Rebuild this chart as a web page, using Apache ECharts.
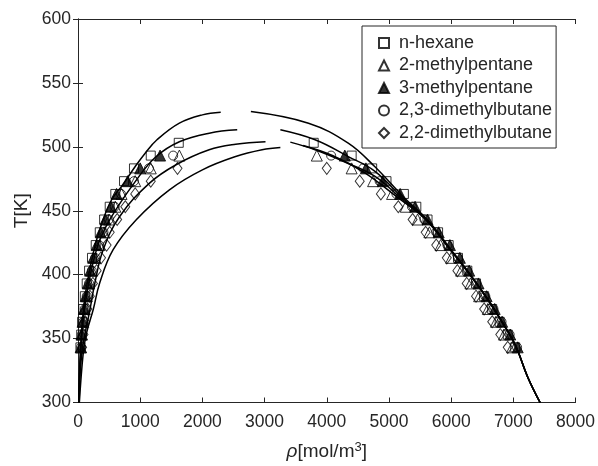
<!DOCTYPE html>
<html>
<head>
<meta charset="utf-8">
<script src="https://cdn.jsdelivr.net/npm/echarts@6/dist/echarts.min.js"></script>
<style>
  html, body { margin: 0; padding: 0; background: #ffffff; }
  #chart { width: 598px; height: 466px; }
</style>
</head>
<body>
<div id="chart"></div>
<script>
// Saturation temperatures of the measured points [K]
const tempsHexane = [343.15, 353.15, 363.15, 373.15, 383.15, 393.15, 403.15, 413.15, 423.15, 433.15, 443.15, 453.15, 463.15, 473.15, 483.15, 493.15, 503.15];
const tempsBranched = [343.15, 353.15, 363.15, 373.15, 383.15, 393.15, 403.15, 413.15, 423.15, 433.15, 443.15, 453.15, 463.15, 473.15, 483.15, 493.15];
const temps22DMB = [343.15, 353.15, 363.15, 373.15, 383.15, 393.15, 403.15, 413.15, 423.15, 433.15, 443.15, 453.15, 463.15, 473.15, 483.15];

// Saturated vapour densities [mol/m3]
const vapHexane = [39, 52, 66, 85, 110, 140, 178, 225, 285, 350, 420, 510, 600, 740, 900, 1170, 1620];
const vap2MP    = [50, 65, 85, 110, 142, 180, 225, 280, 345, 420, 500, 600, 700, 920, 1170, 1630];
const vap3MP    = [43, 56, 73, 95, 122, 155, 195, 245, 300, 365, 440, 530, 620, 800, 1000, 1320];
const vap23DMB  = [49, 64, 84, 108, 140, 178, 222, 275, 340, 410, 495, 590, 690, 900, 1140, 1530];
const vap22DMB  = [66, 88, 115, 150, 190, 240, 300, 370, 460, 510, 630, 760, 920, 1170, 1600];

// Saturated liquid densities [mol/m3]
const liqHexane = [7030, 6910, 6780, 6660, 6530, 6400, 6260, 6110, 5960, 5790, 5620, 5440, 5240, 4960, 4730, 4400, 3790];
const liq2MP    = [6980, 6850, 6720, 6590, 6450, 6310, 6160, 6000, 5830, 5650, 5460, 5270, 5050, 4745, 4400, 3840];
const liq3MP    = [7070, 6950, 6820, 6700, 6570, 6440, 6290, 6140, 5980, 5800, 5620, 5420, 5180, 4900, 4630, 4290];
const liq23DMB  = [7060, 6940, 6810, 6680, 6550, 6410, 6260, 6110, 5940, 5760, 5570, 5370, 5120, 4850, 4585, 4070];
const liq22DMB  = [6910, 6790, 6660, 6530, 6400, 6250, 6100, 5930, 5760, 5590, 5380, 5150, 4870, 4530, 4000];

// Model coexistence curves: vapour branch and liquid branch, [T, rho]
const curveA_vap = [[300, 12], [340, 38], [380, 105], [420, 260], [443, 404], [458.6, 540], [469, 700], [484.6, 920], [495, 1080], [505.5, 1270], [518.5, 1630], [525, 2000], [527, 2295]];
const curveA_liq = [[527.6, 2780], [518.5, 3706], [502.9, 4345], [484.6, 4770], [460, 5250], [443, 5620], [420, 5990], [400, 6310], [380, 6600], [360, 6860], [344, 7040], [320, 7230], [300, 7430]];
const curveB_vap = [[300, 14], [340, 45], [380, 125], [420, 300], [443, 511], [474, 938], [492.4, 1257], [504, 1630], [510.7, 2110], [513.3, 2560]];
const curveB_liq = [[513.3, 3254], [505.5, 3812], [492.4, 4345], [481, 4770], [460, 5220], [443, 5610], [420, 5985], [400, 6305], [380, 6598], [360, 6858], [344, 7040], [320, 7230], [300, 7430]];
const curveC_vap = [[300, 18], [340, 65], [372, 190], [393.7, 272], [419.5, 405], [445.5, 670], [471.6, 1150], [486, 1577], [497.7, 2109], [502, 2535], [504, 3015]];
const curveC_liq = [[503.7, 3414], [497.7, 3812], [487, 4345], [477, 4770], [460, 5190], [443, 5600], [420, 5980], [400, 6300], [380, 6596], [360, 6856], [344, 7040], [320, 7230], [300, 7430]];
const curveD_vap = [[300, 22], [339, 85], [354.6, 139], [372.7, 245], [393.7, 350], [419.5, 565], [443, 937], [466.4, 1470], [482, 2000], [492.4, 2535], [497.7, 2960], [499.5, 3254]];
const curveD_liq = [[501, 3620], [493, 4100], [480, 4600], [460, 5150], [443, 5590], [420, 5975], [400, 6298], [380, 6594], [360, 6854], [344, 7040], [320, 7230], [300, 7430]];

const xTicks = [0, 1000, 2000, 3000, 4000, 5000, 6000, 7000, 8000];
const yTicks = [300, 350, 400, 450, 500, 550, 600];

const AX = '#262626';
const FONT = 'Liberation Sans, Arial, Helvetica, sans-serif';

function points(temps, vap, liq) {
  const out = [];
  temps.forEach((t, i) => { out.push([vap[i], t]); });
  temps.forEach((t, i) => { out.push([liq[i], t]); });
  return out;
}
function curve(vapBranch, liqBranch) {
  // break between the two branches near the critical point
  return vapBranch.map(p => [p[1], p[0]]).concat([[null, null]], liqBranch.map(p => [p[1], p[0]]));
}

const markerStyle = (filled) => ({
  color: filled ? '#000000' : 'rgba(0,0,0,0)',
  borderColor: '#000000',
  borderWidth: 1
});

const scatterDefs = [
  { name: 'n-hexane', symbol: 'rect', size: 9, filled: false, data: points(tempsHexane, vapHexane, liqHexane) },
  { name: '2-methylpentane', symbol: 'triangle', size: 11, filled: false, data: points(tempsBranched, vap2MP, liq2MP) },
  { name: '3-methylpentane', symbol: 'triangle', size: 11, filled: true, data: points(tempsBranched, vap3MP, liq3MP) },
  { name: '2,3-dimethylbutane', symbol: 'circle', size: 9, filled: false, data: points(tempsBranched, vap23DMB, liq23DMB) },
  { name: '2,2-dimethylbutane', symbol: 'diamond', size: [9, 12], filled: false, data: points(temps22DMB, vap22DMB, liq22DMB) }
];

const lineDefs = [
  curve(curveA_vap, curveA_liq),
  curve(curveB_vap, curveB_liq),
  curve(curveC_vap, curveC_liq),
  curve(curveD_vap, curveD_liq)
];

const series = [];
scatterDefs.forEach(d => {
  series.push({
    name: d.name,
    type: 'scatter',
    symbol: d.symbol,
    symbolSize: d.size,
    data: d.data,
    itemStyle: markerStyle(d.filled),
    z: 3,
    animation: false
  });
});
lineDefs.forEach(data => {
  series.push({
    type: 'line',
    data: data,
    smooth: 0.4,
    showSymbol: false,
    connectNulls: false,
    lineStyle: { color: '#000000', width: 1.5 },
    z: 4,
    animation: false
  });
});

const plain = v => String(v);

const chart = echarts.init(document.getElementById('chart'), null, { renderer: 'canvas' });
chart.setOption({
  backgroundColor: '#ffffff',
  animation: false,
  grid: { left: 78, right: 19, top: 19, bottom: 63, containLabel: false },
  legend: {
    orient: 'vertical',
    left: 362,
    top: 26,
    padding: [8, 4, 6, 16],
    itemGap: 4.5,
    itemWidth: 10,
    itemHeight: 10,
    borderColor: AX,
    borderWidth: 1,
    backgroundColor: '#ffffff',
    textStyle: { fontFamily: FONT, fontSize: 18, color: AX, lineHeight: 18, padding: [0, 0, 0, 5] },
    data: scatterDefs.map(d => d.name)
  },
  xAxis: [{
    type: 'value',
    min: xTicks[0], max: xTicks[xTicks.length - 1], interval: 1000,
    name: '{r|ρ}[mol/m{s|3}]',
    nameLocation: 'middle',
    nameGap: 38,
    nameTextStyle: {
      fontFamily: FONT, fontSize: 19, color: AX,
      rich: {
        r: { fontFamily: FONT, fontSize: 19, fontStyle: 'italic', color: AX },
        s: { fontFamily: FONT, fontSize: 13, color: AX, verticalAlign: 'top', padding: [0, 0, 9, 0] }
      }
    },
    axisLine: { show: true, lineStyle: { color: AX, width: 1 } },
    axisTick: { show: true, inside: true, length: 5, lineStyle: { color: AX } },
    axisLabel: { fontFamily: FONT, fontSize: 17.5, color: AX, margin: 11, formatter: plain },
    splitLine: { show: false }
  }, {
    type: 'value', position: 'top',
    min: xTicks[0], max: xTicks[xTicks.length - 1], interval: 1000,
    axisLine: { show: true, lineStyle: { color: AX, width: 1 } },
    axisTick: { show: true, inside: true, length: 5, lineStyle: { color: AX } },
    axisLabel: { show: false },
    splitLine: { show: false }
  }],
  yAxis: [{
    type: 'value',
    min: yTicks[0], max: yTicks[yTicks.length - 1], interval: 50,
    name: 'T[K]',
    nameLocation: 'middle',
    nameGap: 47,
    nameTextStyle: { fontFamily: FONT, fontSize: 19, color: AX },
    axisLine: { show: true, lineStyle: { color: AX, width: 1 } },
    axisTick: { show: true, inside: true, length: 5, lineStyle: { color: AX } },
    axisLabel: { fontFamily: FONT, fontSize: 17.5, color: AX, margin: 7, formatter: plain },
    splitLine: { show: false }
  }, {
    type: 'value', position: 'right',
    min: yTicks[0], max: yTicks[yTicks.length - 1], interval: 50,
    axisLine: { show: true, lineStyle: { color: AX, width: 1 } },
    axisTick: { show: true, inside: true, length: 5, lineStyle: { color: AX } },
    axisLabel: { show: false },
    splitLine: { show: false }
  }],
  series: series
});
</script>
</body>
</html>
